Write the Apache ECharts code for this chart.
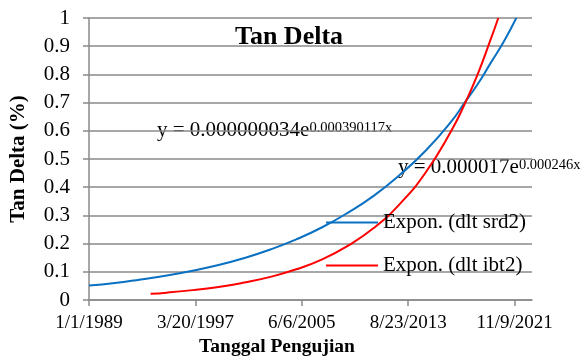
<!DOCTYPE html>
<html>
<head>
<meta charset="utf-8">
<script src="https://cdn.jsdelivr.net/npm/echarts@6/dist/echarts.min.js"></script>
<style>
  html, body { margin: 0; padding: 0; background: #fff; }
  #chart { width: 582px; height: 358px; }
</style>
</head>
<body>
<div id="chart"></div>
<script>
// Exponential trend of tan delta over test dates, two transformers
const seriesNames = ['Expon. (dlt srd2)', 'Expon. (dlt ibt2)'];

const srd2Dates = ['1989-01-01', '1991-01-01', '1993-01-01', '1995-01-01', '1997-01-01',
  '1999-01-01', '2001-01-01', '2003-01-01', '2005-01-01', '2007-01-01', '2009-01-01',
  '2011-01-01', '2013-01-01', '2015-01-01', '2017-01-01', '2018-01-01', '2019-01-01',
  '2020-01-01', '2021-01-01', '2021-12-27'];
const srd2Values = [0.051, 0.060, 0.073, 0.087, 0.104, 0.124, 0.149, 0.179, 0.215, 0.258,
  0.31, 0.37, 0.444, 0.53, 0.635, 0.70, 0.765, 0.84, 0.915, 1.0];

const ibt2Dates = ['1993-10-05', '1995-01-01', '1997-01-01', '1999-01-01', '2001-01-01',
  '2003-01-01', '2005-01-01', '2007-01-01', '2009-01-01', '2011-01-01', '2013-01-01',
  '2015-01-01', '2017-01-01', '2018-01-01', '2019-01-01', '2020-01-01', '2020-08-06'];
const ibt2Values = [0.022, 0.026, 0.035, 0.046, 0.062, 0.082, 0.109, 0.144, 0.193, 0.256,
  0.341, 0.453, 0.603, 0.695, 0.80, 0.923, 1.0];

const xTickLabels = ['1/1/1989', '3/20/1997', '6/6/2005', '8/23/2013', '11/9/2021'];
const yTickLabels = ['0', '0.1', '0.2', '0.3', '0.4', '0.5', '0.6', '0.7', '0.8', '0.9', '1'];

const eqSrd2 = { base: 'y = 0.000000034e', exp: '0.000390117x' };
const eqIbt2 = { base: 'y = 0.000017e', exp: '0.000246x' };

// x values are days counted from 1/1/1989
const ORIGIN = Date.UTC(1989, 0, 1);
const DAY = 86400000;
function dayOffset(s) {
  const p = s.split('-').map(Number);
  return Math.round((Date.UTC(p[0], p[1] - 1, p[2]) - ORIGIN) / DAY);
}
function pairs(dates, values) {
  return dates.map((d, i) => [dayOffset(d), values[i]]);
}

const FONT = '"Liberation Serif", "Times New Roman", serif';
const GRID_COLOR = '#8a8a8a';
const BLUE = '#0a70c2';
const RED = '#ff0000';

const eqRich = {
  b: { fontFamily: FONT, fontSize: 21, fill: '#000', verticalAlign: 'bottom', lineHeight: 23 },
  s: { fontFamily: FONT, fontSize: 14.5, fill: '#000', verticalAlign: 'top', lineHeight: 17, padding: [3, 0, 0, 0] }
};

const chart = echarts.init(document.getElementById('chart'), null, { renderer: 'canvas' });

chart.setOption({
  animation: false,
  backgroundColor: '#ffffff',
  grid: { left: 88, right: 50, top: 18, bottom: 58, containLabel: false },
  xAxis: {
    type: 'value',
    min: 0,
    max: 12490,
    interval: 3000,
    axisLine: { show: true, lineStyle: { color: GRID_COLOR, width: 1.5 } },
    axisTick: { show: true, length: 6, lineStyle: { color: GRID_COLOR, width: 1.5 } },
    splitLine: { show: false },
    axisLabel: {
      margin: 14,
      fontFamily: FONT,
      fontSize: 19,
      color: '#000',
      showMaxLabel: false,
      formatter: v => xTickLabels[Math.round(v / 3000)] || ''
    }
  },
  yAxis: {
    type: 'value',
    min: 0,
    max: 1,
    interval: 0.1,
    name: 'Tan Delta (%)',
    nameLocation: 'middle',
    nameGap: 60,
    nameTextStyle: { fontFamily: FONT, fontSize: 21, fontWeight: 'bold', color: '#000' },
    axisLine: { show: true, lineStyle: { color: GRID_COLOR, width: 1.5 } },
    axisTick: { show: true, length: 6, lineStyle: { color: GRID_COLOR, width: 1.5 } },
    splitLine: { show: true, lineStyle: { color: GRID_COLOR, width: 1.5 } },
    axisLabel: {
      margin: 19,
      fontFamily: FONT,
      fontSize: 21,
      color: '#000',
      formatter: v => yTickLabels[Math.round(v * 10)]
    }
  },
  legend: {
    orient: 'vertical',
    left: 326,
    top: 212,
    padding: 0,
    itemWidth: 52,
    itemHeight: 14,
    itemGap: 22,
    textStyle: { fontFamily: FONT, fontSize: 21, color: '#000' },
    data: seriesNames.map(n => ({ name: n, icon: 'path://M0,0L52,0L52,2L0,2Z' }))
  },
  graphic: [
    {
      type: 'text',
      style: {
        text: 'Tan Delta',
        x: 289, y: 37,
        align: 'center', verticalAlign: 'middle',
        font: 'bold 26px ' + FONT,
        fill: '#000'
      }
    },
    {
      type: 'text',
      style: {
        text: 'Tanggal Pengujian',
        x: 277, y: 347,
        align: 'center', verticalAlign: 'middle',
        font: 'bold 19.5px ' + FONT,
        fill: '#000'
      }
    },
    {
      type: 'text',
      style: {
        text: '{b|' + eqSrd2.base + '}{s|' + eqSrd2.exp + '}',
        x: 157, y: 129,
        verticalAlign: 'middle',
        rich: eqRich
      }
    },
    {
      type: 'text',
      style: {
        text: '{b|' + eqIbt2.base + '}{s|' + eqIbt2.exp + '}',
        x: 398, y: 166,
        verticalAlign: 'middle',
        rich: eqRich
      }
    }
  ],
  series: [
    {
      name: seriesNames[0],
      type: 'line',
      data: pairs(srd2Dates, srd2Values),
      smooth: 0.5,
      showSymbol: false,
      symbol: 'none',
      clip: true,
      color: BLUE,
      lineStyle: { color: BLUE, width: 2 }
    },
    {
      name: seriesNames[1],
      type: 'line',
      data: pairs(ibt2Dates, ibt2Values),
      smooth: 0.5,
      showSymbol: false,
      symbol: 'none',
      clip: true,
      color: RED,
      lineStyle: { color: RED, width: 2 }
    }
  ]
});
</script>
</body>
</html>
